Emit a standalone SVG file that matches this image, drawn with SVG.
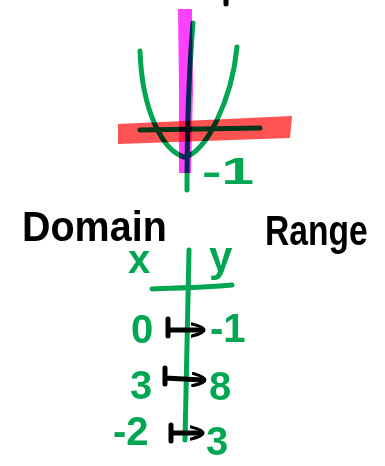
<svg xmlns="http://www.w3.org/2000/svg" width="385" height="466" viewBox="0 0 385 466">
<style>
.g{fill:none;stroke:#00a651;stroke-width:5;stroke-linecap:round;stroke-linejoin:round}
.k{fill:none;stroke:#000;stroke-width:5;stroke-linecap:round;stroke-linejoin:round}
.hl{mix-blend-mode:multiply}
.tg{fill:#00a651;font-family:"Liberation Sans","DejaVu Sans",sans-serif;font-weight:bold}
.tk{fill:#000;font-family:"Liberation Sans","DejaVu Sans",sans-serif;font-weight:bold}
</style>
<defs>
<marker id="ah" viewBox="0 0 10 10" refX="7" refY="5" markerWidth="3" markerHeight="3.2" orient="auto" markerUnits="strokeWidth">
<path d="M1,1 Q9,3 9,5 Q9,7 1,9" fill="none" stroke="#000" stroke-width="2.2" stroke-linecap="round"/>
</marker>
</defs>
<rect width="385" height="466" fill="#fff"/>
<g id="graph">
<path class="g" d="M140,51 C142,110 162,150 184,157 C205,155 232,100 237,47"/>
<path class="g" d="M193,23 C189,70 187,120 187,190"/>
<path class="g" d="M140,130 L260,128"/>
<path d="M118,124 L292,116 L290,138 L118,144 Z" fill="#ff5252" class="hl"/>
<path d="M178,9 L192,9 L193,90 L191,173 L179,173 L179,90 Z" fill="#ff40ff" class="hl"/>
<text class="tg" x="202" y="184" font-size="36" textLength="52" lengthAdjust="spacingAndGlyphs">-1</text>
<path class="k" d="M226,0 L226,4" stroke-width="3"/>
</g>
<g id="labels">
<text class="tk" transform="translate(22,241) scale(0.94,1)" font-size="42">Domain</text>
<text class="tk" transform="translate(265,245) scale(0.8,1)" font-size="42">Range</text>
</g>
<g id="table">
<path class="g" d="M189,250 C188,320 186,380 185,440"/>
<path class="g" d="M152,289 C180,288 210,287 232,285"/>
<text class="tg" x="128" y="273" font-size="40">x</text>
<text class="tg" x="209" y="271" font-size="42">y</text>
<text class="tg" x="131" y="343" font-size="40">0</text>
<text class="tg" x="210" y="342" font-size="40">-1</text>
<text class="tg" x="130" y="399" font-size="40">3</text>
<text class="tg" x="209" y="400" font-size="40">8</text>
<text class="tg" x="113" y="445" font-size="40">-2</text>
<text class="tg" x="206" y="455" font-size="40">3</text>
</g>
<g id="connectors">
<path class="k" d="M168,319 L168,336 M168,330 L201,330" marker-end="url(#ah)"/>
<path class="k" d="M165,368 L165,384 M165,378 L202,380" marker-end="url(#ah)"/>
<path class="k" d="M171,425 L171,441 M171,433 L200,433" marker-end="url(#ah)"/>
</g>
</svg>
